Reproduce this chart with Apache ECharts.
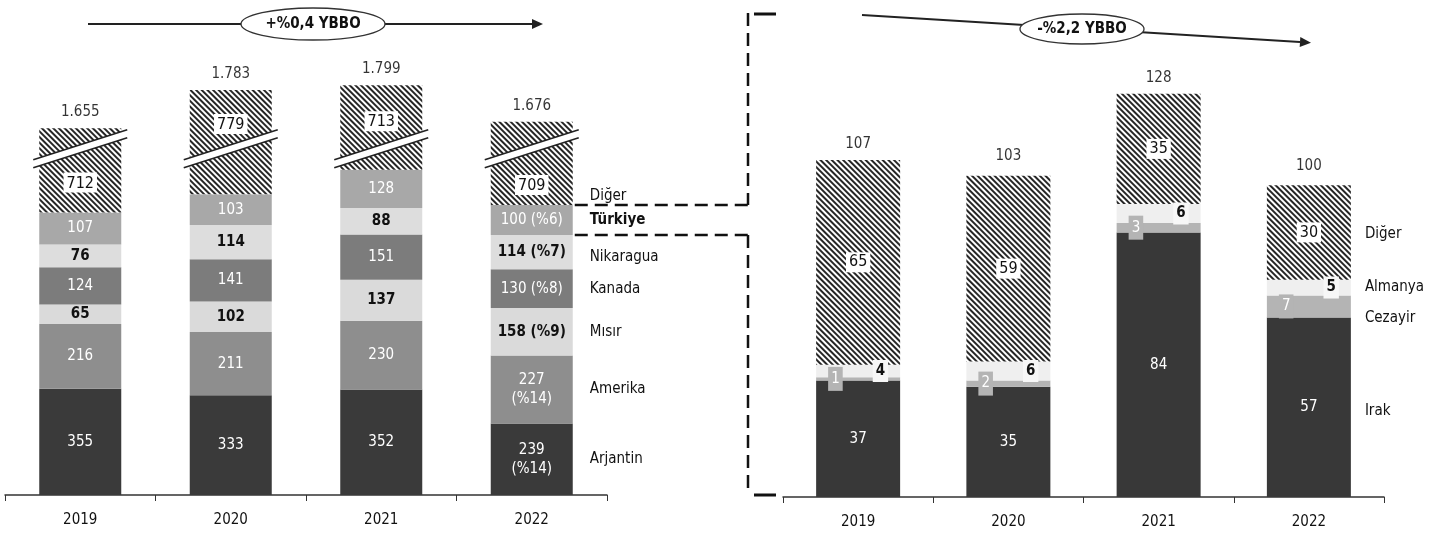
<!DOCTYPE html>
<html><head><meta charset="utf-8">
<script src="https://cdn.jsdelivr.net/npm/echarts@6/dist/echarts.min.js"></script>
<style>html,body{margin:0;padding:0;background:#fff}#c{width:1451px;height:537px}</style>
</head><body><div id="c"></div>
<script>
// ---------- DATA ----------
const years = ['2019', '2020', '2021', '2022'];
// left chart (stack order bottom -> top)
const arjantin  = [355, 333, 352, 239];
const amerika   = [216, 211, 230, 227];
const misir     = [65, 102, 137, 158];
const kanada    = [124, 141, 151, 130];
const nikaragua = [76, 114, 88, 114];
const turkiye   = [107, 103, 128, 100];
const digerL    = [712, 779, 713, 709];
const totalsL   = [1655, 1783, 1799, 1676];
const shares2022 = [14, 14, 9, 8, 7, 6]; // Arjantin, Amerika, Mısır, Kanada, Nikaragua, Türkiye
// right chart
const irak    = [37, 35, 84, 57];
const cezayir = [1, 2, 3, 7];
const almanya = [4, 6, 6, 5];
const digerR  = [65, 59, 35, 30];
const totalsR = [107, 103, 128, 100];
const ybboLeft = '+%0,4 YBBO';
const ybboRight = '-%2,2 YBBO';
// y-axis break on left chart (values hidden between these)
const breakStart = 1152, breakEnd = 1591;

// ---------- CHART ----------
const FONT = "'Liberation Sans Narrow','DejaVu Sans Condensed','Open Sans',sans-serif";
const fmt = v => String(v).replace(/\B(?=(\d{3})+(?!\d))/g, '.');
const chart = echarts.init(document.getElementById('c'));

const hatch = {symbol: 'rect', symbolSize: 1, color: '#262626', dashArrayX: [1, 0], dashArrayY: [1.6, 1.7], rotation: Math.PI / 4};

const leftDefs = [
  {name: 'Arjantin', data: arjantin, color: '#3a3a3a', text: '#fff', bold: false, wrap: true},
  {name: 'Amerika', data: amerika, color: '#8e8e8e', text: '#fff', bold: false, wrap: true},
  {name: 'Mısır', data: misir, color: '#dadada', text: '#111', bold: true},
  {name: 'Kanada', data: kanada, color: '#7c7c7c', text: '#fff', bold: false},
  {name: 'Nikaragua', data: nikaragua, color: '#dddddd', text: '#111', bold: true},
  {name: 'Türkiye', data: turkiye, color: '#a8a8a8', text: '#fff', bold: false}
];

const series = [];
leftDefs.forEach((d, k) => {
  series.push({
    type: 'bar', name: d.name, stack: 'L', xAxisIndex: 0, yAxisIndex: 0, barWidth: 82,
    data: d.data, itemStyle: {color: d.color},
    label: {show: true, position: 'inside', color: d.text, fontFamily: FONT, fontSize: 15,
      fontWeight: d.bold ? 'bold' : 'normal', lineHeight: 19,
      formatter: p => p.dataIndex === 3 ? p.value + (d.wrap ? '\n' : ' ') + '(%' + shares2022[k] + ')' : String(p.value)}
  });
});
const digerLabelPlace = [
  {position: 'insideBottom', distance: 20}, {position: 'insideTop', distance: 24},
  {position: 'insideTop', distance: 26}, {position: 'insideBottom', distance: 10}
];
series.push({
  type: 'bar', name: 'Diğer', stack: 'L', xAxisIndex: 0, yAxisIndex: 0, barWidth: 82,
  data: digerL.map((v, i) => ({value: v, label: digerLabelPlace[i]})),
  itemStyle: {color: '#ffffff', decal: hatch},
  label: {show: true, color: '#111', fontFamily: FONT, fontSize: 16, backgroundColor: '#fff', padding: [3, 3, 1, 3]}
});
series.push({
  type: 'scatter', xAxisIndex: 0, yAxisIndex: 0, data: totalsL, symbolSize: 1,
  itemStyle: {color: 'rgba(0,0,0,0)'}, silent: true,
  label: {show: true, position: 'top', distance: 8, color: '#000', fontFamily: FONT, fontSize: 15, formatter: p => fmt(p.value)}
});

// right chart
series.push({
  type: 'bar', name: 'Irak', stack: 'R', xAxisIndex: 1, yAxisIndex: 1, barWidth: 84,
  data: irak, itemStyle: {color: '#383838'},
  label: {show: true, position: 'inside', color: '#fff', fontFamily: FONT, fontSize: 15}
});
series.push({
  type: 'bar', name: 'Cezayir', stack: 'R', xAxisIndex: 1, yAxisIndex: 1, barWidth: 84,
  data: cezayir, itemStyle: {color: '#b4b4b4'},
  label: {show: true, position: 'insideLeft', distance: 12, color: '#fff', fontFamily: FONT, fontSize: 15,
    backgroundColor: '#b4b4b4', padding: [5, 3, 4, 3]}
});
series.push({
  type: 'bar', name: 'Almanya', stack: 'R', xAxisIndex: 1, yAxisIndex: 1, barWidth: 84,
  data: almanya, itemStyle: {color: '#efefef'},
  label: {show: true, position: 'insideRight', distance: 12, color: '#111', fontWeight: 'bold', fontFamily: FONT, fontSize: 15,
    backgroundColor: '#f7f7f7', padding: [4, 3, 3, 3]}
});
series.push({
  type: 'bar', name: 'Diğer ', stack: 'R', xAxisIndex: 1, yAxisIndex: 1, barWidth: 84,
  data: digerR, itemStyle: {color: '#ffffff', decal: hatch},
  label: {show: true, position: 'inside', color: '#111', fontFamily: FONT, fontSize: 16, backgroundColor: '#fff', padding: [3, 3, 1, 3]}
});
series.push({
  type: 'scatter', xAxisIndex: 1, yAxisIndex: 1, data: totalsR, symbolSize: 1,
  itemStyle: {color: 'rgba(0,0,0,0)'}, silent: true,
  label: {show: true, position: 'top', distance: 8, color: '#000', fontFamily: FONT, fontSize: 15, formatter: p => fmt(p.value)}
});

const xAx = gi => ({
  type: 'category', gridIndex: gi, data: years,
  axisLine: {lineStyle: {color: '#333', width: 1.5}},
  axisTick: {show: true, length: 6, lineStyle: {color: '#333'}},
  axisLabel: {color: '#111', fontFamily: FONT, fontSize: 15, margin: 18}
});

chart.setOption({
  animation: false,
  backgroundColor: '#fff',
  grid: [
    {left: 5, width: 602, top: 40, height: 455},
    {left: 783, width: 601, top: 56, height: 441}
  ],
  xAxis: [xAx(0), xAx(1)],
  yAxis: [
    {type: 'value', gridIndex: 0, min: 0, max: 1950,
      breaks: [{start: breakStart, end: breakEnd, gap: 8}],
      breakArea: {show: false},
      axisLine: {show: false}, axisTick: {show: false}, axisLabel: {show: false}, splitLine: {show: false}},
    {type: 'value', gridIndex: 1, min: 0, max: 140,
      axisLine: {show: false}, axisTick: {show: false}, axisLabel: {show: false}, splitLine: {show: false}}
  ],
  series: series
});

// ---------- annotations ----------
const P = (gi, i, v) => chart.convertToPixel({gridIndex: gi}, [i, v]);
const g = [];
const txt = (x, y, s, opt) => g.push({type: 'text', x: x, y: y, z: 50,
  style: Object.assign({text: s, fill: '#111', font: '15px ' + FONT, textVerticalAlign: 'middle'}, opt || {})});

// break bands on left bars
for (let i = 0; i < 4; i++) {
  const xc = P(0, i, 0)[0];
  const yc = (P(0, i, breakStart)[1] + P(0, i, breakEnd)[1]) / 2;
  const hw = 47, sl = 15, h = 4;
  g.push({type: 'polygon', z: 40, shape: {points: [[xc - hw, yc + sl + h], [xc + hw, yc - sl + h], [xc + hw, yc - sl - h], [xc - hw, yc + sl - h]]},
    style: {fill: '#fff'}});
  g.push({type: 'line', z: 41, shape: {x1: xc - hw, y1: yc + sl + h, x2: xc + hw, y2: yc - sl + h}, style: {stroke: '#222', lineWidth: 1.5}});
  g.push({type: 'line', z: 41, shape: {x1: xc - hw, y1: yc + sl - h, x2: xc + hw, y2: yc - sl - h}, style: {stroke: '#222', lineWidth: 1.5}});
}

// side labels left (centres of 2022 segments)
const leftCols = [arjantin, amerika, misir, kanada, nikaragua, turkiye];
const lx = P(0, 3, 0)[0] + 58;
let cum = 0;
leftDefs.forEach((d, k) => {
  const v = leftCols[k][3];
  const y = P(0, 3, cum + v / 2)[1];
  cum += v;
  txt(lx, y + (d.name === 'Nikaragua' ? 5 : 0), d.name, d.name === 'Türkiye' ? {font: 'bold 15px ' + FONT} : {});
});
txt(lx, P(0, 3, cum)[1] - 9, 'Diğer');

// side labels right
const rx = P(1, 3, 0)[0] + 56;
const rDefs = [['Irak', irak, 4], ['Cezayir', cezayir, 12], ['Almanya', almanya, 0], ['Diğer', digerR, 2]];
let rcum = 0;
rDefs.forEach(([n, arr, nudge]) => {
  const v = arr[3];
  txt(rx, P(1, 3, rcum + v / 2)[1] + nudge, n);
  rcum += v;
});

// dashed bracket from Türkiye (2022) to right chart
const yT = P(0, 3, cum)[1], yB = P(0, 3, cum - turkiye[3])[1];
const bx0 = P(0, 3, 0)[0] + 43, bx = 748;
const dash = {stroke: '#111', lineWidth: 2.5, lineDash: [13, 7]};
[[bx0, yT, bx, yT], [bx0, yB, bx, yB], [bx, 13, bx, yT], [bx, yB, bx, 495]].forEach(a =>
  g.push({type: 'line', z: 30, shape: {x1: a[0], y1: a[1], x2: a[2], y2: a[3]}, style: dash}));
g.push({type: 'line', z: 30, shape: {x1: 754, y1: 14, x2: 776, y2: 14}, style: {stroke: '#111', lineWidth: 3}});
g.push({type: 'line', z: 30, shape: {x1: 754, y1: 495, x2: 776, y2: 495}, style: {stroke: '#111', lineWidth: 3}});

// growth arrows
function arrow(x1, y1, x2, y2, cx, cy, rx2, ry2, label) {
  g.push({type: 'line', z: 20, shape: {x1: x1, y1: y1, x2: x2, y2: y2}, style: {stroke: '#222', lineWidth: 2}});
  const a = Math.atan2(y2 - y1, x2 - x1), L = 11, W = 5;
  const ex = x2 + Math.cos(a) * L, ey = y2 + Math.sin(a) * L;
  g.push({type: 'polygon', z: 20, shape: {points: [[ex, ey],
    [x2 - Math.sin(a) * W, y2 + Math.cos(a) * W], [x2 + Math.sin(a) * W, y2 - Math.cos(a) * W]]}, style: {fill: '#222'}});
  g.push({type: 'ellipse', z: 21, shape: {cx: cx, cy: cy, rx: rx2, ry: ry2}, style: {fill: '#fff', stroke: '#333', lineWidth: 1.3}});
  g.push({type: 'text', z: 22, x: cx, y: cy, style: {text: label, fill: '#111', font: 'bold 15px ' + FONT, textAlign: 'center', textVerticalAlign: 'middle'}});
}
arrow(88, 24, 532, 24, 313, 24, 72, 16, ybboLeft);
arrow(862, 15, 1300, 42, 1082, 29, 62, 15, ybboRight);

chart.setOption({graphic: {elements: g}});
</script>
</body></html>
